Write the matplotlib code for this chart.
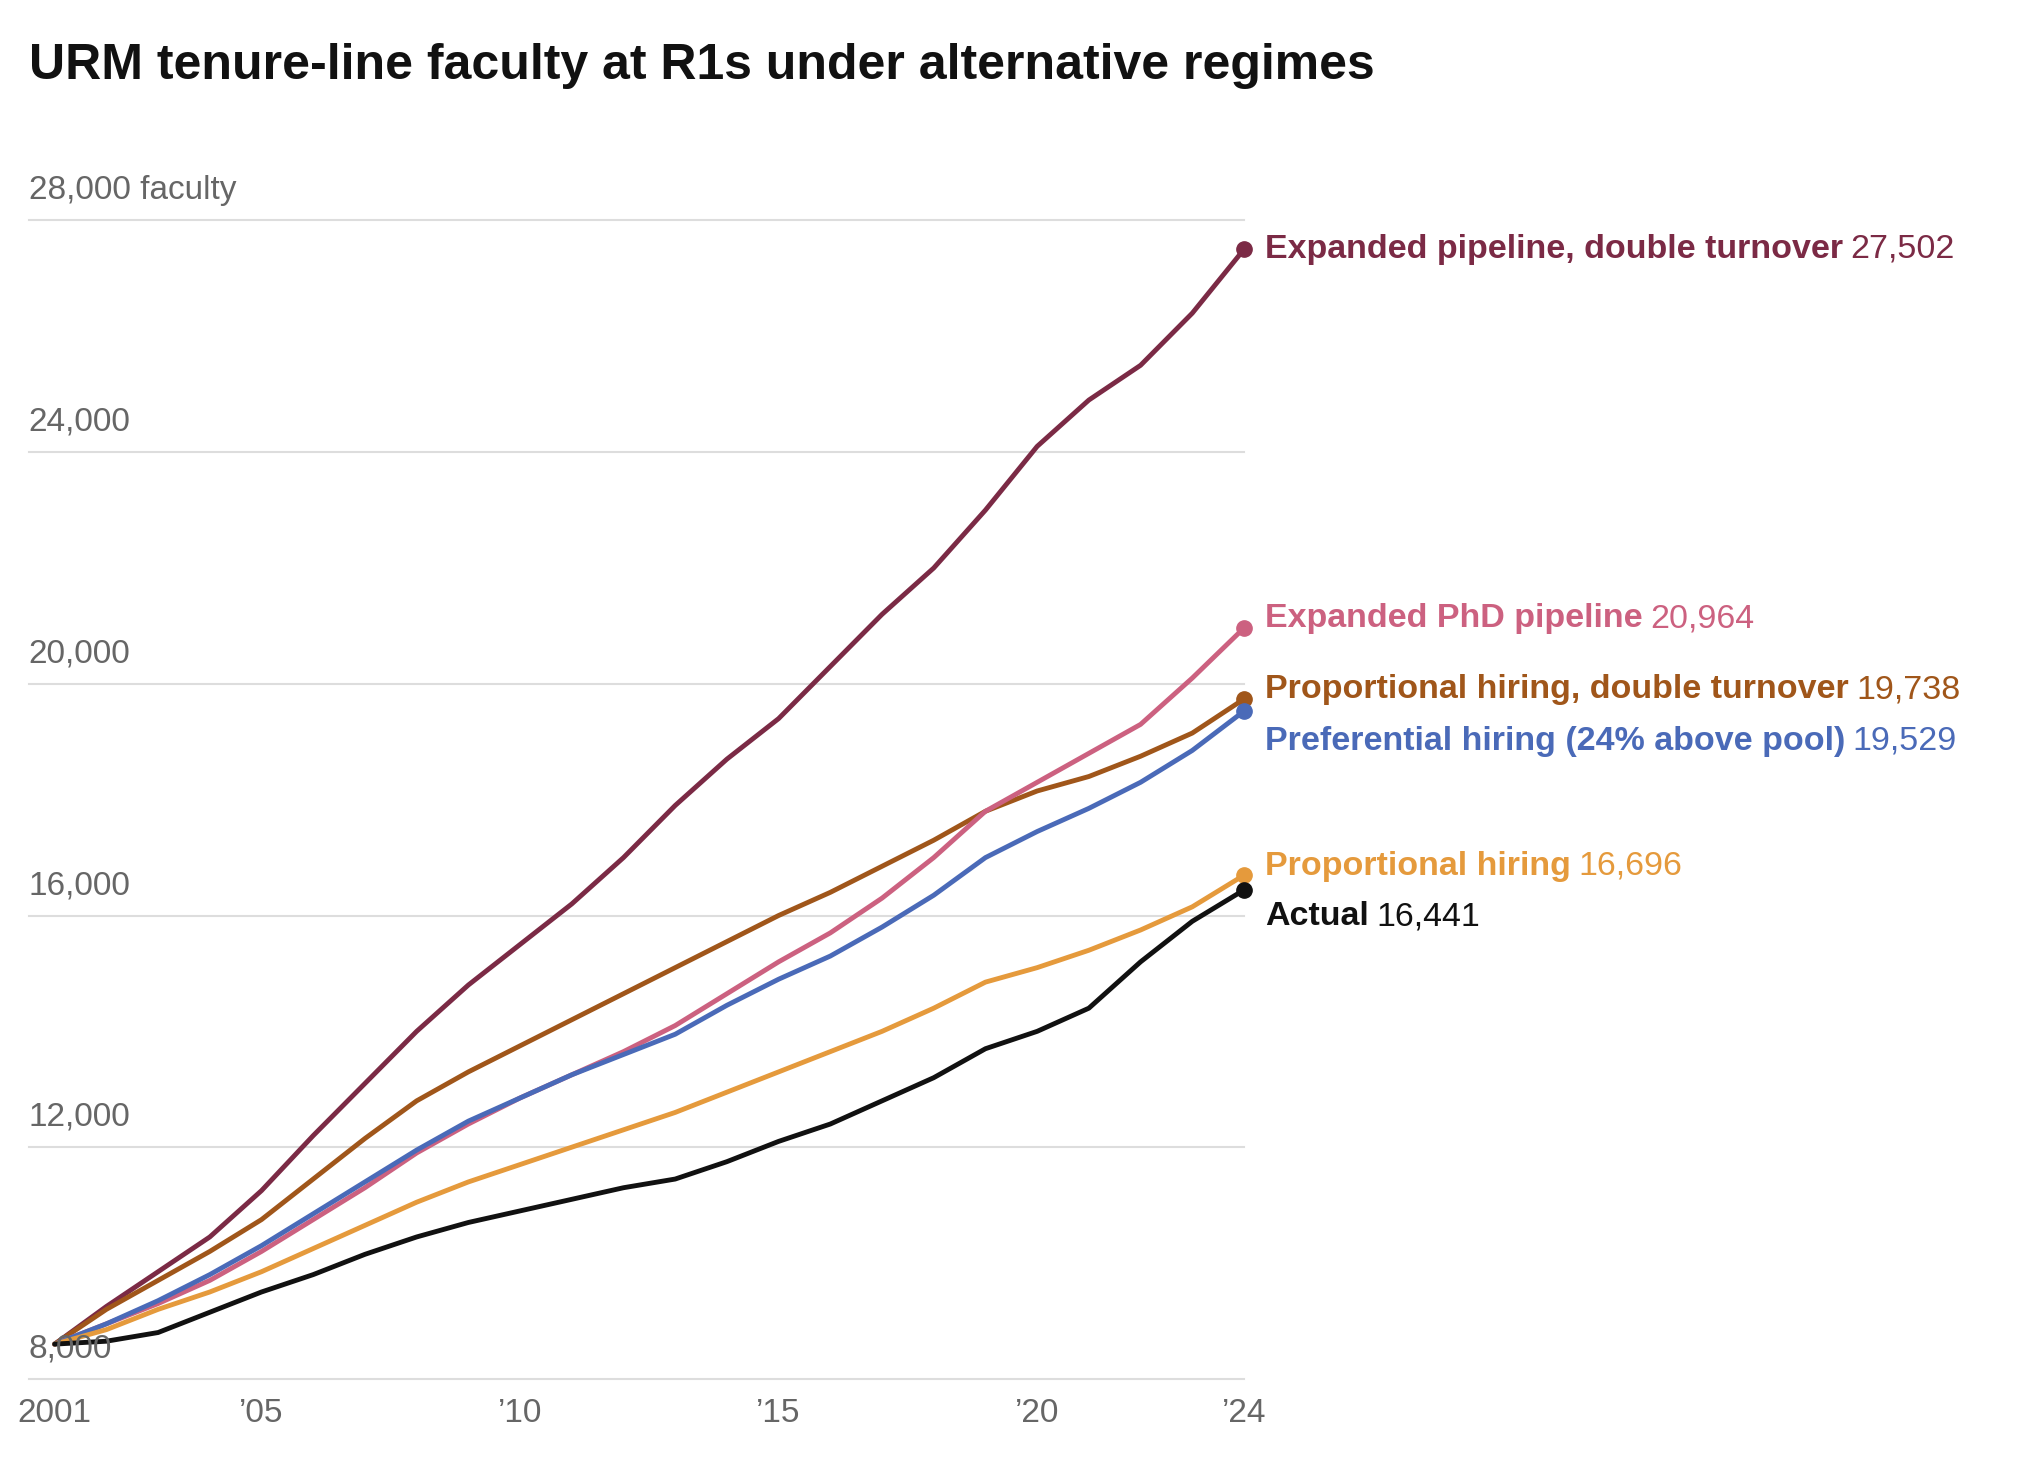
import matplotlib.pyplot as plt
import numpy as np

plt.rcParams['font.family'] = ['Liberation Sans', 'DejaVu Sans']

years = np.arange(2001, 2025)
expanded_double = [8600, 9250, 9850, 10450, 11250, 12200, 13100, 14000, 14800, 15500, 16200, 17000,
                   17900, 18700, 19400, 20300, 21200, 22000, 23000, 24100, 24900, 25500, 26400, 27502]
prop_double = [8600, 9200, 9700, 10200, 10750, 11450, 12150, 12800, 13300, 13750, 14200, 14650,
               15100, 15550, 16000, 16400, 16850, 17300, 17800, 18150, 18400, 18750, 19150, 19738]
expanded_phd = [8600, 8950, 9300, 9700, 10200, 10750, 11300, 11900, 12400, 12850, 13250, 13650,
                14100, 14650, 15200, 15700, 16300, 17000, 17800, 18300, 18800, 19300, 20100, 20964]
preferential = [8600, 8950, 9350, 9800, 10300, 10850, 11400, 11950, 12450, 12850, 13250, 13600,
                13950, 14450, 14900, 15300, 15800, 16350, 17000, 17450, 17850, 18300, 18850, 19529]
proportional = [8600, 8850, 9200, 9500, 9850, 10250, 10650, 11050, 11400, 11700, 12000, 12300,
                12600, 12950, 13300, 13650, 14000, 14400, 14850, 15100, 15400, 15750, 16150, 16696]
actual = [8600, 8650, 8800, 9150, 9500, 9800, 10150, 10450, 10700, 10900, 11100, 11300,
          11450, 11750, 12100, 12400, 12800, 13200, 13700, 14000, 14400, 15200, 15900, 16441]

series = [
    ("Expanded pipeline, double turnover", expanded_double, "#7b2a45", 27502),
    ("Proportional hiring, double turnover", prop_double, "#a0561a", 19900),
    ("Expanded PhD pipeline", expanded_phd, "#cc6180", 21120),
    ("Preferential hiring (24% above pool)", preferential, "#4a6ab8", 19010),
    ("Proportional hiring", proportional, "#e59a3c", 16850),
    ("Actual", actual, "#111111", 15980),
]

yticks = [8000, 12000, 16000, 20000, 24000, 28000]
xticks = [2001, 2005, 2010, 2015, 2020, 2024]
xlabels = ["2001", "\u201905", "\u201910", "\u201915", "\u201920", "\u201924"]

fig = plt.figure(figsize=(20.4, 14.7), dpi=100)
ax = fig.add_axes([0.0268, 0.062, 0.583, 0.788])
ax.set_xlim(2001, 2024)
ax.set_ylim(8000, 28000)
for s in ax.spines.values():
    s.set_visible(False)
ax.set_yticks([])
ax.set_xticks(xticks)
ax.set_xticklabels(xlabels, fontsize=24, color='#666666')
ax.tick_params(axis='x', length=0, pad=14)

for v in yticks:
    ax.plot([2000.5, 2024], [v, v], color='#dddddd', lw=1.5, clip_on=False, zorder=0)
    lab = f"{v:,}" + (" faculty" if v == 28000 else "")
    ax.text(2000.5, v + 250, lab, fontsize=24, color='#666666', va='bottom', ha='left')

fig.canvas.draw()
r = fig.canvas.get_renderer()
for name, vals, col, ly in series:
    ax.plot(years, vals, color=col, lw=3.5, clip_on=False, solid_capstyle='round')
    ax.plot(years[-1], vals[-1], 'o', color=col, ms=11, clip_on=False)
    t = ax.text(2024.4, ly, name, fontsize=24.5, fontweight='bold', color=col, va='center', ha='left')
    bb = t.get_window_extent(r)
    x1 = ax.transData.inverted().transform((bb.x1, 0))[0]
    ax.text(x1 + 0.15, ly, f"{vals[-1]:,}", fontsize=24.5, color=col, va='center', ha='left')

fig.text(0.014, 0.955, "URM tenure-line faculty at R1s under alternative regimes",
         fontsize=36, fontweight='bold', color='#111111', va='center', ha='left')

fig.savefig("out.png", dpi=100)
